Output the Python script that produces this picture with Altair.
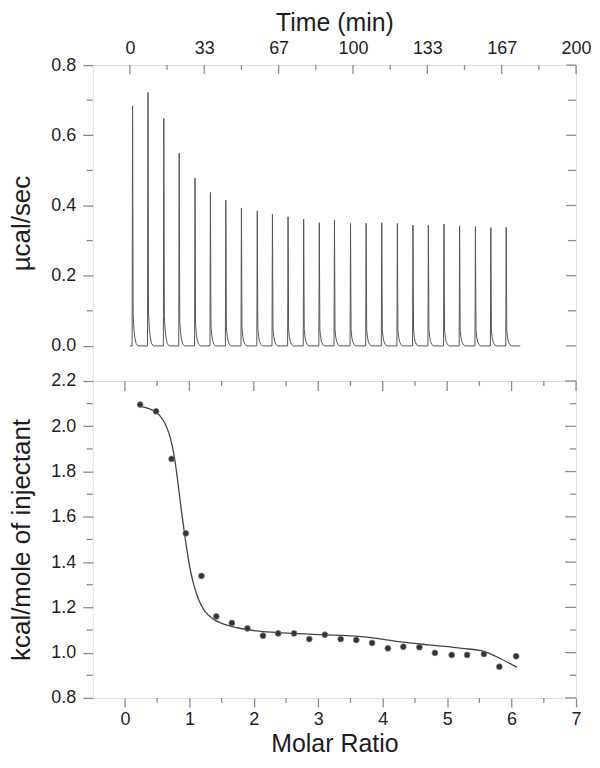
import altair as alt
import pandas as pd

# ---------------- data ----------------
# Top panel: raw ITC thermogram (injection times in min, peak heights in µcal/sec)
inj_time = [1.2, 8.1, 15.2, 22.1, 29.2, 36.1, 43.0, 50.0, 57.1, 63.9, 70.9, 77.9,
            84.9, 91.7, 98.9, 105.9, 112.9, 119.9, 126.9, 133.8, 140.8, 147.8,
            154.9, 161.8, 168.7]
inj_peak = [0.684, 0.722, 0.648, 0.549, 0.478, 0.437, 0.415, 0.393, 0.385, 0.375,
            0.368, 0.361, 0.351, 0.359, 0.349, 0.349, 0.351, 0.349, 0.344, 0.344,
            0.347, 0.342, 0.340, 0.337, 0.338]
# outline of a single peak (min after injection, share of peak height)
peak_dt = [-0.2, 0.0, 0.25, 0.6, 1.0, 1.6, 2.4]
peak_share = [0.0, 1.0, 0.13, 0.07, 0.035, 0.01, 0.0]
baseline_start = 0.0
baseline_end = 175.0

# Bottom panel: integrated heats
molar_ratio = [0.236, 0.483, 0.724, 0.945, 1.187, 1.418, 1.659, 1.900, 2.142, 2.378,
               2.624, 2.861, 3.102, 3.348, 3.590, 3.835, 4.080, 4.320, 4.570, 4.810,
               5.070, 5.310, 5.570, 5.810, 6.070]
heat = [2.096, 2.066, 1.856, 1.527, 1.339, 1.160, 1.131, 1.107, 1.075, 1.085,
        1.085, 1.060, 1.079, 1.060, 1.056, 1.043, 1.019, 1.026, 1.024, 0.999,
        0.990, 0.990, 0.994, 0.938, 0.984]
# fitted curve
fit_x = [0.236, 0.483, 0.586, 0.652, 0.704, 0.765, 0.816, 0.867, 0.909, 0.960,
         1.012, 1.073, 1.151, 1.237, 1.356, 1.536, 1.741, 2.049, 2.460, 2.920,
         3.436, 3.640, 4.210, 4.720, 5.230, 5.570, 5.750, 6.080]
fit_y = [2.088, 2.062, 2.030, 1.993, 1.949, 1.868, 1.765, 1.648, 1.559, 1.457,
         1.369, 1.295, 1.229, 1.185, 1.151, 1.126, 1.110, 1.096, 1.087, 1.081,
         1.075, 1.072, 1.050, 1.034, 1.019, 1.006, 0.984, 0.936]

# axis ticks
time_major = [0, 33.333, 66.667, 100, 133.333, 166.667, 200]
time_minor = [16.667, 50, 83.333, 116.667, 150, 183.333]
top_y_major = [0.0, 0.2, 0.4, 0.6, 0.8]
top_y_minor = [0.1, 0.3, 0.5, 0.7]
mr_major = [0, 1, 2, 3, 4, 5, 6, 7]
mr_minor = [0.5, 1.5, 2.5, 3.5, 4.5, 5.5, 6.5]
bot_y_major = [0.8, 1.0, 1.2, 1.4, 1.6, 1.8, 2.0, 2.2]
bot_y_minor = [0.9, 1.1, 1.3, 1.5, 1.7, 1.9, 2.1]

# ---------------- layout / style ----------------
W = 485
H1 = 317
H2 = 318
FONT = "Liberation Sans"
GRAY = "#8c8c8c"
TXT = "#1e1e1e"
LAB = 18
XTIT = 25
YTIT = 26

rows = [{"x": baseline_start, "y": 0.0, "i": 0}]
for t0, p in zip(inj_time, inj_peak):
    for dt, f in zip(peak_dt, peak_share):
        rows.append({"x": t0 + dt, "y": p * f, "i": len(rows)})
rows.append({"x": baseline_end, "y": 0.0, "i": len(rows)})
thermo = pd.DataFrame(rows)

xs_top = alt.Scale(domain=[-16.667, 200], nice=False, zero=False)
ys_top = alt.Scale(domain=[-0.1, 0.8], nice=False, zero=False)
xs_bot = alt.Scale(domain=[-0.5, 7], nice=False, zero=False)
ys_bot = alt.Scale(domain=[0.8, 2.2], nice=False, zero=False)

common = dict(labelFontSize=LAB, labelFont=FONT, titleFont=FONT,
              labelColor=TXT, titleColor=TXT, titleFontWeight="normal",
              labelOverlap=False, domain=False, grid=False)

x_top_axis = alt.Axis(orient="top", values=time_major, format=".0f", title="Time (min)",
                      ticks=False, tickSize=0, labelPadding=8, titlePadding=4,
                      titleFontSize=XTIT, labelFlush=False, **common)
y_top_axis = alt.Axis(values=top_y_major, format=".1f", title="µcal/sec",
                      tickSize=10, tickColor=GRAY, tickWidth=1.3, titleFontSize=YTIT,
                      labelPadding=7, titlePadding=16, **common)

def vline_df(vals):
    return pd.DataFrame({"x": vals})

def hline_df(vals):
    return pd.DataFrame({"y": vals})

def rule(df_, **enc):
    return alt.Chart(df_).mark_rule(color=GRAY, strokeWidth=1.3).encode(**enc)

thermo_line = alt.Chart(thermo).mark_line(color="#555555", strokeWidth=1).encode(
    x=alt.X("x:Q", scale=xs_top, axis=x_top_axis),
    y=alt.Y("y:Q", scale=ys_top, axis=y_top_axis),
    order="i:Q",
)
top = alt.layer(
    thermo_line,
    rule(vline_df(time_major), x=alt.X("x:Q", scale=xs_top), y=alt.value(0), y2=alt.value(9)),
    rule(vline_df(time_minor), x=alt.X("x:Q", scale=xs_top), y=alt.value(0), y2=alt.value(5)),
    rule(hline_df(top_y_minor), y=alt.Y("y:Q", scale=ys_top), x=alt.value(-6), x2=alt.value(0)),
    rule(hline_df(top_y_major), y=alt.Y("y:Q", scale=ys_top), x=alt.value(W - 10), x2=alt.value(W)),
    rule(hline_df(top_y_minor), y=alt.Y("y:Q", scale=ys_top), x=alt.value(W - 8), x2=alt.value(W)),
).properties(width=W, height=H1)

# ---------------- bottom panel ----------------
x_bot_axis = alt.Axis(orient="bottom", values=mr_major, format="d", title="Molar Ratio",
                      tickSize=9, tickColor=GRAY, tickWidth=1.3, titleFontSize=XTIT,
                      labelPadding=4, titlePadding=3, labelFlush=False, **common)
y_bot_axis = alt.Axis(values=bot_y_major, format=".1f", title="kcal/mole of injectant",
                      tickSize=10, tickColor=GRAY, tickWidth=1.3, titleFontSize=YTIT,
                      labelPadding=7, titlePadding=16, **common)

pts_df = pd.DataFrame({"x": molar_ratio, "y": heat})
fit_df = pd.DataFrame({"x": fit_x, "y": fit_y})

points = alt.Chart(pts_df).mark_circle(size=34, color="#333333", opacity=1,
                                       stroke="#777777", strokeWidth=0.8).encode(
    x=alt.X("x:Q", scale=xs_bot, axis=x_bot_axis),
    y=alt.Y("y:Q", scale=ys_bot, axis=y_bot_axis),
)
fit = alt.Chart(fit_df).mark_line(color="#444444", strokeWidth=1.3, interpolate="monotone").encode(
    x=alt.X("x:Q", scale=xs_bot), y=alt.Y("y:Q", scale=ys_bot))

bottom = alt.layer(
    fit, points,
    rule(vline_df(mr_minor), x=alt.X("x:Q", scale=xs_bot), y=alt.value(H2), y2=alt.value(H2 + 5)),
    rule(vline_df(mr_major), x=alt.X("x:Q", scale=xs_bot), y=alt.value(0), y2=alt.value(10)),
    rule(vline_df(mr_minor), x=alt.X("x:Q", scale=xs_bot), y=alt.value(0), y2=alt.value(5)),
    rule(hline_df(bot_y_minor), y=alt.Y("y:Q", scale=ys_bot), x=alt.value(-6), x2=alt.value(0)),
    rule(hline_df(bot_y_major), y=alt.Y("y:Q", scale=ys_bot), x=alt.value(W - 11), x2=alt.value(W)),
    rule(hline_df(bot_y_minor), y=alt.Y("y:Q", scale=ys_bot), x=alt.value(W - 6), x2=alt.value(W)),
).properties(width=W, height=H2)

chart = alt.vconcat(top, bottom, spacing=0, bounds="flush").properties(
    padding=0
).configure_view(
    stroke=GRAY, strokeWidth=1.5
).configure(
    background="white"
)

chart.save("out.html", embed_options={"renderer": "svg", "actions": False})
